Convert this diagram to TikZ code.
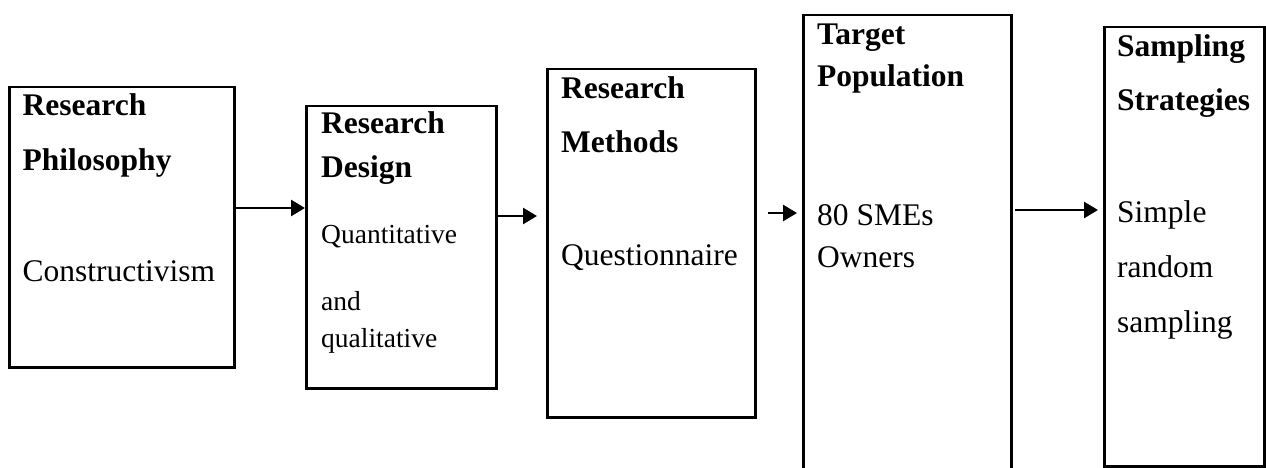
\documentclass[tikz,border=0pt]{standalone}
\usepackage{fontspec}
\setmainfont{Liberation Serif}
\usetikzlibrary{arrows.meta}
\begin{document}
\begin{tikzpicture}[x=1pt,y=-1pt,
  box/.style={draw,line width=2.5pt,inner sep=0pt,rectangle,anchor=north west},
  hd/.style={anchor=base west,inner sep=0pt,font=\fontsize{31.5}{36}\selectfont\bfseries},
  bd/.style={anchor=base west,inner sep=0pt,font=\fontsize{31.5}{36}\selectfont},
  sm/.style={anchor=base west,inner sep=0pt,font=\fontsize{27.5}{32}\selectfont},
  arr/.style={line width=2.7pt,-{Triangle[length=14pt,width=16pt]}}]
\useasboundingbox[fill=white] (0,0) rectangle (1266,468);
% boxes
\node[box,minimum width=225pt,minimum height=280pt] (box1) at (8,86) {};
\node[box,minimum width=190pt,minimum height=282pt] (box2) at (305,105) {};
\node[box,minimum width=208pt,minimum height=348pt] (box3) at (546,68) {};
\node[box,minimum width=208pt,minimum height=470pt] (box4) at (802,14) {};
\node[box,minimum width=160pt,minimum height=439pt] (box5) at (1103,26) {};
% texts
\node[hd] (t1a) at (22.5,115.5) {Research};
\node[hd] (t1b) at (22.5,170) {Philosophy};
\node[bd] (t1c) at (22.5,281) {Constructivism};
\node[hd] (t2a) at (321,134) {Research};
\node[hd] (t2b) at (321,177) {Design};
\node[sm] (t2c) at (321,243) {Quantitative};
\node[sm] (t2d) at (321,310) {and};
\node[sm] (t2e) at (321,347) {qualitative};
\node[hd] (t3a) at (561,99) {Research};
\node[hd] (t3b) at (561,153) {Methods};
\node[bd] (t3c) at (561,265) {Questionnaire};
\node[hd] (t4a) at (817,45) {Target};
\node[hd] (t4b) at (817,87) {Population};
\node[bd] (t4c) at (817,225) {80 SMEs};
\node[bd] (t4d) at (817,267) {Owners};
\node[hd] (t5a) at (1117,57) {Sampling};
\node[hd] (t5b) at (1117,111) {Strategies};
\node[bd] (t5c) at (1117,222) {Simple};
\node[bd] (t5d) at (1117,277) {random};
\node[bd] (t5e) at (1117,332) {sampling};
% arrows
\coordinate (a1s) at (233,208);
\coordinate (a2s) at (495,216);
\coordinate (a2e) at (537,216);
\coordinate (a3s) at (768,213);
\coordinate (a3e) at (797,213);
\coordinate (a4s) at (1015,210);
\coordinate (a4e) at (1098,210);
\draw[arr] (box1.east |- a1s) -- (box2.west |- a1s);
\draw[arr] (box2.east |- a2s) -- (a2e);
\draw[arr] (a3s) -- (a3e);
\draw[arr] (a4s) -- (a4e);
\end{tikzpicture}
\end{document}
